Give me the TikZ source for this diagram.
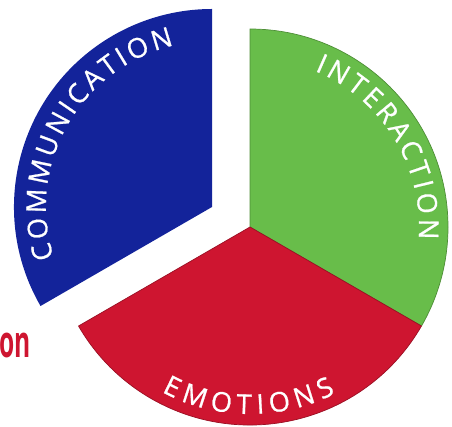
\documentclass[tikz,border=0pt]{standalone}
\usepackage{fontspec}
\newfontfamily\ringfont{Open Sans}[FakeBold=0.8]
\newfontfamily\tagfont{Open Sans}
\newcommand\ringsize{\fontsize{15.5pt}{18pt}\selectfont}
\usetikzlibrary{decorations.text}

\definecolor{commblue}{HTML}{13239A}
\definecolor{interactgreen}{HTML}{68BD4A}
\definecolor{emored}{HTML}{CE1530}

\begin{document}
\begin{tikzpicture}[
    sector/.style={fill=#1, draw=#1!75!black, line width=0.4pt},
    ringtext/.style={decorate,
        decoration={text along path, text align=fit to path, text={|\ringfont\ringsize\color{white}|#1}}},
]
    \useasboundingbox (-5.0,-3.98) rectangle (4.04,4.54);

    % Interaction (upper right)
    \path[sector=interactgreen] (0,0) -- (90:3.96) arc[start angle=90, end angle=-30, radius=3.96] -- cycle;
    \path[ringtext=INTERACTION] (67.5:3.38) arc[start angle=67.5, end angle=-4.2, radius=3.38];

    % Emotions (bottom)
    \path[sector=emored] (0,0) -- (-30:3.96) arc[start angle=-30, end angle=-150, radius=3.96] -- cycle;
    \path[ringtext=EMOTIONS] (241.8:3.74) arc[start angle=241.8, end angle=297.2, radius=3.74];

    % Communication (pulled out to the upper left)
    \begin{scope}[shift={(-0.76,0.40)}]
        \path[sector=commblue, draw=none] (0,0) -- (210:3.96) arc[start angle=210, end angle=90, radius=3.96] -- cycle;
        \path[ringtext=COMMUNICATION] (197.8:3.32) arc[start angle=197.8, end angle=103.2, radius=3.32];
    \end{scope}

    % Word fragment on the left
    \node[font=\tagfont\bfseries\fontsize{25}{25}\selectfont, text=emored, anchor=base west,
        inner sep=0pt, xscale=0.56] (frag) at (-5.02,-2.6) {on};
\end{tikzpicture}
\end{document}
